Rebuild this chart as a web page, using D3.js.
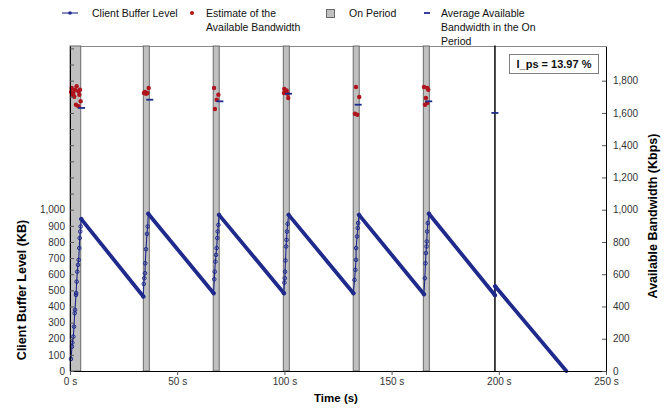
<!DOCTYPE html>
<html><head><meta charset="utf-8">
<script src="https://cdn.jsdelivr.net/npm/d3@7"></script>
<style>body{margin:0;background:#fff}text{font-family:"Liberation Sans",Arial,sans-serif}</style>
</head><body><svg id="c" width="668" height="408"></svg>
<script>
// ---- data ----
const onStart = [0, 34.2, 66.8, 99.5, 132.1, 164.8, 198.1];
const onEnd   = [5.0, 37.0, 69.6, 102.3, 134.9, 167.6, 198.3];

const bufferTime = [0.47,0.93,1.07,1.54,1.87,2.19,2.33,2.8,2.85,3.12,3.4,3.73,4.06,4.34,4.52,4.8,4.99,5.27,
  34.2,34.4,34.65,34.98,35.1,35.45,35.9,36.24,36.5,
  67.0,67.3,67.5,67.8,68.1,68.4,68.7,68.9,69.2,69.5,
  99.8,100.0,100.2,100.3,100.5,100.8,101.0,101.2,101.5,102.0,
  132.2,132.7,133.1,133.4,133.45,133.9,134.2,134.4,134.8,
  165.1,165.5,165.8,166.0,166.3,166.4,166.6,166.9,167.4,
  198.2,198.3,231.5];
const bufferKB = [75,151,176,213,275,358,379,472,484,554,616,658,689,762,824,865,896,942,
  462,540,575,606,668,755,850,896,975,
  482,569,616,678,720,762,824,865,906,968,
  482,548,575,616,685,772,813,865,912,968,
  482,565,627,689,762,834,886,917,968,
  476,575,668,731,772,803,865,917,975,
  470,525,0];

const estTime = [0.5,0.78,1.24,1.55,2.0,2.33,2.8,3.1,3.9,3.95,4.35,4.66,4.97,
  34.5,35.0,35.45,36.1,36.7,
  67.2,67.6,68.4,69.2,
  99.8,99.95,100.7,101.05,101.5,101.8,
  132.9,133.4,134.0,134.9,
  165.1,165.6,166.0,166.65,166.65,167.1];
const estKbps = [1730,1755,1713,1724,1700,1744,1651,1765,1734,1641,1713,1744,1672,
  1724,1730,1719,1724,1755,
  1755,1624,1682,1713,
  1724,1749,1728,1740,1719,1693,
  1595,1761,1589,1699,
  1761,1651,1693,1755,1662,1744];

const avgTime = [5.4, 37.2, 69.9, 101.9, 134.4, 167.3, 198.2];
const avgKbps = [1631, 1682, 1672, 1719, 1651, 1672, 1600];

const timeTicks = [0, 50, 100, 150, 200, 250];
const leftTicks = d3.range(0, 2001, 100);
const rightTicks = d3.range(0, 1801, 200);
const annotation = "I_ps = 13.97 %";

// ---- chart ----
const svg = d3.select("#c");
const L = 70, R = 606, T = 46, B = 371;
const x = d3.scaleLinear().domain([0, 250]).range([L, R]);
const yL = d3.scaleLinear().domain([0, 2015]).range([B, T]);
const yR = d3.scaleLinear().domain([0, 2015]).range([B, T]);
const navy = "#1f2a8c", red = "#b0141c";

// frame top
svg.append("line").attr("x1", L).attr("x2", R).attr("y1", T + 0.5).attr("y2", T + 0.5)
  .attr("stroke", "#8a8a8a");

// on periods
svg.append("g").selectAll("rect").data(onStart).join("rect")
  .attr("x", (d, i) => x(d))
  .attr("width", (d, i) => Math.max(0.01, x(onEnd[i]) - x(d)))
  .attr("y", T).attr("height", B - T)
  .attr("fill", "#c0c0c0").attr("stroke", (d, i) => i === onStart.length - 1 ? "#000" : "#6a6a6a")
  .attr("stroke-width", 1);

// buffer
const pts = bufferTime.map((t, i) => [t, bufferKB[i]]);
const gB = svg.append("g");
for (let i = 0; i < pts.length - 1; i++) {
  const a = pts[i], b = pts[i + 1];
  const dec = b[1] < a[1] && (b[0] - a[0]) > 1;
  gB.append("line").attr("x1", x(a[0])).attr("y1", yL(a[1])).attr("x2", x(b[0])).attr("y2", yL(b[1]))
    .attr("stroke", navy).attr("stroke-width", dec ? 3.8 : 1.1).attr("stroke-linecap", "round");
}
gB.selectAll("circle").data(pts.slice(0, -1)).join("circle")
  .attr("cx", d => x(d[0])).attr("cy", d => yL(d[1])).attr("r", 1.8)
  .attr("fill", "none").attr("stroke", navy).attr("stroke-width", 1);

// estimates
svg.append("g").selectAll("circle").data(estTime).join("circle")
  .attr("cx", d => x(d)).attr("cy", (d, i) => yR(estKbps[i])).attr("r", 2.2).attr("fill", red);

// averages
svg.append("g").selectAll("line").data(avgTime).join("line")
  .attr("x1", d => x(d) - 3.5).attr("x2", d => x(d) + 3.5)
  .attr("y1", (d, i) => yR(avgKbps[i])).attr("y2", (d, i) => yR(avgKbps[i]))
  .attr("stroke", navy).attr("stroke-width", 1.8);

// annotation
svg.append("rect").attr("x", 509.5).attr("y", 54.5).attr("width", 89).attr("height", 19)
  .attr("fill", "#fff").attr("stroke", "#808080");
svg.append("text").attr("x", 554).attr("y", 68).attr("text-anchor", "middle")
  .attr("font-size", 11).attr("font-weight", "bold").attr("fill", "#111").text(annotation);

// axes
const fmt = d3.format(",");
const ax = svg.append("g").attr("transform", `translate(0,${B})`)
  .call(d3.axisBottom(x).tickValues(timeTicks).tickSize(4).tickSizeOuter(0).tickPadding(3)
    .tickFormat(d => d + " s"));
const ayL = svg.append("g").attr("transform", `translate(${L},0)`)
  .call(d3.axisLeft(yL).tickValues(leftTicks).tickSize(-4).tickSizeOuter(0).tickPadding(5)
    .tickFormat(d => d <= 1000 ? fmt(d) : ""));
const ayR = svg.append("g").attr("transform", `translate(${R},0)`)
  .call(d3.axisRight(yR).tickValues(rightTicks).tickSize(-4).tickSizeOuter(0).tickPadding(7)
    .tickFormat(fmt));
[ax, ayL, ayR].forEach(g => {
  g.selectAll("text").attr("font-size", 10).attr("fill", "#333").style("font-family", '"Liberation Sans",Arial,sans-serif');
  g.select(".domain").attr("stroke", "#000");
  g.selectAll(".tick line").attr("stroke", "#555");
});

// axis titles
svg.append("text").attr("x", 336).attr("y", 402).attr("text-anchor", "middle")
  .attr("font-size", 11.5).attr("font-weight", "bold").text("Time (s)");
svg.append("text").attr("transform", "translate(26,290) rotate(-90)").attr("text-anchor", "middle")
  .attr("font-size", 12.5).attr("font-weight", "bold").text("Client Buffer Level (KB)");
svg.append("text").attr("transform", "translate(657,216) rotate(-90)").attr("text-anchor", "middle")
  .attr("font-size", 12.5).attr("font-weight", "bold").text("Available Bandwidth (Kbps)");

// legend
const lg = svg.append("g").attr("font-size", 10.5).attr("fill", "#111");
lg.append("line").attr("x1", 62).attr("x2", 78).attr("y1", 13).attr("y2", 13).attr("stroke", navy).attr("stroke-width", 1.1);
lg.append("circle").attr("cx", 70).attr("cy", 13).attr("r", 1.8).attr("fill", navy);
lg.append("text").attr("x", 92).attr("y", 17).text("Client Buffer Level");
lg.append("circle").attr("cx", 192).attr("cy", 13).attr("r", 2).attr("fill", red);
lg.append("text").attr("x", 206).attr("y", 17).text("Estimate of the");
lg.append("text").attr("x", 206).attr("y", 31).text("Available Bandwidth");
lg.append("rect").attr("x", 326.5).attr("y", 9.5).attr("width", 8).attr("height", 8).attr("fill", "#c0c0c0").attr("stroke", "#6a6a6a");
lg.append("text").attr("x", 349).attr("y", 17).text("On Period");
lg.append("line").attr("x1", 424).attr("x2", 430).attr("y1", 13).attr("y2", 13).attr("stroke", navy).attr("stroke-width", 1.8);
lg.append("text").attr("x", 441).attr("y", 17).text("Average Available");
lg.append("text").attr("x", 441).attr("y", 31).text("Bandwidth in the On");
lg.append("text").attr("x", 441).attr("y", 45).text("Period");
</script></body></html>
